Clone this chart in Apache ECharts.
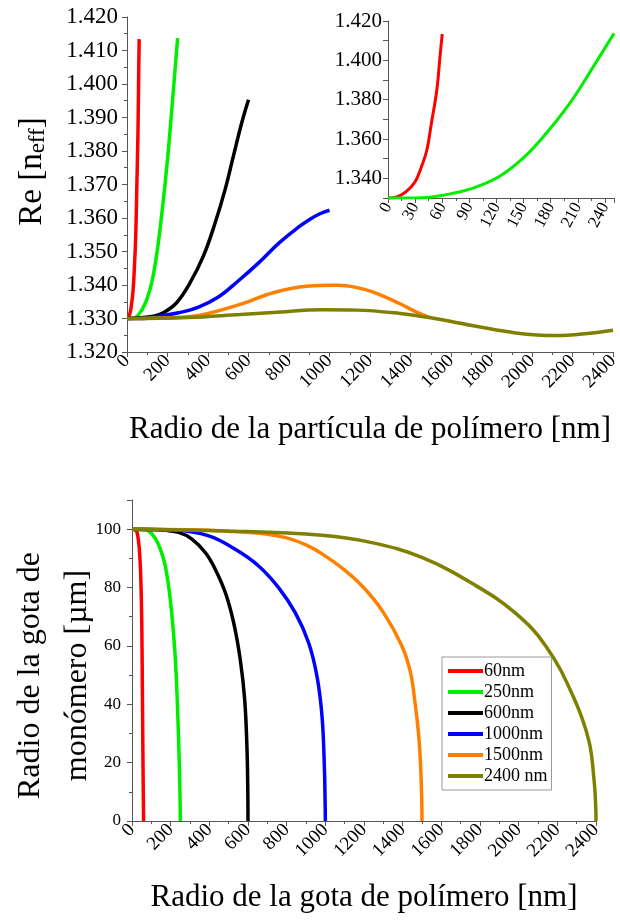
<!DOCTYPE html>
<html>
<head>
<meta charset="utf-8">
<script src="https://cdn.jsdelivr.net/npm/echarts@6/dist/echarts.min.js"></script>
<style>
  html, body { margin: 0; padding: 0; background: #fff; }
  #chart { width: 620px; height: 920px; }
</style>
</head>
<body>
<div id="chart"></div>
<script>
// 图例名称 / 颜色
var seriesNames = ['60nm', '250nm', '600nm', '1000nm', '1500nm', '2400 nm'];
var seriesColors = ['#ff0000', '#00ee00', '#000000', '#0000ff', '#ff8000', '#808000'];

// 上图: Re[n_eff] vs 粒子半径 (nm)
var reRed = [[0, 1.3300], [5, 1.3301], [11, 1.3307], [20, 1.3332], [30, 1.3383], [37, 1.3459], [43, 1.3544], [48, 1.3680], [54, 1.3849], [57.5, 1.4018], [60, 1.4134]];
var reGreen = [[0, 1.3300], [20, 1.3300], [43, 1.3303], [72, 1.3324], [98, 1.3357], [124, 1.3412], [150, 1.3505], [175, 1.3629], [201, 1.3781], [227, 1.3967], [250, 1.4137]];
var reBlack = [[0, 1.3300], [60, 1.3302], [130, 1.3307], [179, 1.3317], [245, 1.3347], [311, 1.3406], [377, 1.3486], [435, 1.3585], [484, 1.3684], [525, 1.3784], [566, 1.3883], [600, 1.3953]];
var reBlue = [[0, 1.3300], [100, 1.3301], [157, 1.3307], [255, 1.3317], [353, 1.3334], [451, 1.3364], [549, 1.3412], [650, 1.3466], [750, 1.3525], [850, 1.3574], [900, 1.3595], [950, 1.3612], [1000, 1.3623]];
var reOrange = [[0, 1.3300], [200, 1.3302], [353, 1.3309], [558, 1.3342], [722, 1.3377], [887, 1.3396], [1040, 1.3399], [1130, 1.3393], [1216, 1.3379], [1348, 1.3344], [1430, 1.3319], [1500, 1.3302]];
var reOlive = [[0, 1.3300], [300, 1.3303], [558, 1.3312], [722, 1.3318], [969, 1.3326], [1134, 1.3325], [1348, 1.3315], [1500, 1.3302], [1724, 1.3277], [1920, 1.3257], [2116, 1.3249], [2273, 1.3255], [2400, 1.3265]];

// 下图: 单体液滴半径 (um) vs 聚合物液滴半径 (nm)
var dropRed = [[0, 100], [15, 99.7], [26, 99], [38, 93], [46, 82], [51, 65], [54, 42], [57, 19], [59, 6], [60, 0]];
var dropGreen = [[0, 100], [52, 99.9], [86, 99.4], [121, 96.8], [147, 93.1], [172, 87.4], [198, 75.9], [221, 58.7], [234, 41.5], [245, 18.6], [249, 6], [250, 0]];
var dropBlack = [[0, 100], [138, 99.8], [241, 98.9], [310, 96.6], [379, 92], [431, 86.2], [483, 78.2], [526, 67.9], [560, 55.3], [583, 41.5], [595, 24.3], [599, 10], [600, 0]];
var dropBlue = [[0, 100], [224, 99.7], [397, 97.7], [534, 93.1], [655, 87.4], [759, 79.9], [845, 71.3], [914, 61], [957, 49.5], [983, 35.8], [995, 18.6], [999, 6], [1000, 0]];
var dropOrange = [[0, 100], [300, 99.8], [500, 99.3], [700, 98.3], [800, 97], [900, 94.6], [991, 91.2], [1100, 86], [1198, 80], [1300, 71.5], [1396, 60], [1440, 51], [1465, 40], [1482, 30], [1492, 20], [1498, 9], [1500, 0]];
var dropOlive = [[0, 100], [483, 99.4], [982, 97.9], [1241, 95.4], [1499, 90.3], [1770, 81], [1982, 71.3], [2140, 60], [2280, 43], [2362, 27.8], [2390, 14], [2399, 4], [2400, 0]];

var reData = [reRed, reGreen, reBlack, reBlue, reOrange, reOlive];
var dropData = [dropRed, dropGreen, dropBlack, dropBlue, dropOrange, dropOlive];

(function() {
    'use strict';

    var FONT = 'Liberation Serif';
    var AXIS_COLOR = '#555';

    var chart = echarts.init(document.getElementById('chart'));

    function $extend(a, b) {
        var out = {};
        var k;
        for (k in a) { out[k] = a[k]; }
        for (k in b) {
            if (b[k] && typeof b[k] === 'object' && !Array.isArray(b[k]) && out[k] && typeof out[k] === 'object') {
                out[k] = $extend(out[k], b[k]);
            } else {
                out[k] = b[k];
            }
        }
        return out;
    }

    /**
     * 通用坐标轴样式
     */
    function axisStyle(opt) {
        return $extend({
            type : 'value',
            nameMoveOverlap : false,
            axisLine : { show : true, onZero : false, lineStyle : { color : AXIS_COLOR, width : 1 } },
            axisTick : { show : true, length : 5, lineStyle : { color : AXIS_COLOR } },
            minorTick : { show : true, splitNumber : 2, length : 3, lineStyle : { color : AXIS_COLOR } },
            splitLine : { show : false },
            axisLabel : { color : '#000', fontFamily : FONT, fontSize : 19, formatter : function(v) { return String(v); } },
            nameTextStyle : { color : '#000', fontFamily : FONT },
        }, opt);
    }

    function lineSeries(d, i, axisIdx, width) {
        return {
            name : seriesNames[i], type : 'line', xAxisIndex : axisIdx, yAxisIndex : axisIdx,
            data : d, showSymbol : false, smooth : 0.4,
            lineStyle : { color : seriesColors[i], width : width },
            itemStyle : { color : seriesColors[i] },
        };
    }

    var series = [];
    reData.forEach(function(d, i) { series.push(lineSeries(d, i, 0, 3.5)); });
    [reRed, reGreen].forEach(function(d, i) { series.push(lineSeries(d, i, 1, 3)); });
    dropData.forEach(function(d, i) { series.push(lineSeries(d, i, 2, 3.5)); });

    var option = {
        animation : false,
        backgroundColor : '#fff',
        textStyle : { fontFamily : FONT, color : '#000' },
        grid : [
            { left : 127, right : 7, top : 17, height : 335, outerBoundsMode : 'none' },
            { left : 388, right : 6, top : 21, height : 177, outerBoundsMode : 'none' },
            { left : 132, right : 24, top : 500, height : 321, outerBoundsMode : 'none' },
        ],
        legend : {
            data : seriesNames,
            orient : 'vertical',
            left : 442, top : 657,
            padding : [5, 4, 5, 6],
            itemGap : 3,
            itemWidth : 35, itemHeight : 4,
            icon : 'rect',
            borderColor : '#999', borderWidth : 1,
            textStyle : { fontFamily : FONT, fontSize : 18, color : '#000', padding : [0, 0, 0, -4] },
        },
        xAxis : [
            axisStyle({
                gridIndex : 0, min : 0, max : 2400, interval : 200,
                axisLabel : { rotate : 45, margin : 6 },
                name : 'Radio de la partícula de polímero [nm]',
                nameLocation : 'middle', nameGap : 62,
                nameTextStyle : { fontSize : 31 },
            }),
            axisStyle({
                gridIndex : 1, min : 0, max : 250, interval : 30,
                axisLabel : { rotate : 62, margin : 6, fontSize : 17, showMaxLabel : false },
            }),
            axisStyle({
                gridIndex : 2, min : 0, max : 2400, interval : 200,
                axisLabel : { rotate : 45, margin : 6 },
                name : 'Radio de la gota de polímero [nm]',
                nameLocation : 'middle', nameGap : 61,
                nameTextStyle : { fontSize : 31 },
            }),
        ],
        yAxis : [
            axisStyle({
                gridIndex : 0, min : 1.32, max : 1.42, interval : 0.01,
                axisLabel : { fontSize : 23, margin : 9, formatter : function(v) { return v.toFixed(3); } },
                name : 'Re [n{sub|eff}]',
                nameLocation : 'middle', nameRotate : 90, nameGap : 78,
                nameTextStyle : {
                    fontSize : 33, padding : [0, 0, 0, 26],
                    rich : { sub : { fontSize : 23, verticalAlign : 'bottom', fontFamily : FONT, color : '#000' } },
                },
            }),
            axisStyle({
                gridIndex : 1, min : 1.33, max : 1.42, interval : 0.01,
                minorTick : { show : false },
                axisLabel : {
                    fontSize : 21, margin : 6,
                    formatter : function(v) {
                        return Math.round(v * 1000) % 20 === 0 ? v.toFixed(3) : '';
                    },
                },
            }),
            axisStyle({
                gridIndex : 2, min : 0, max : 110, interval : 20,
                axisLabel : { fontSize : 17, margin : 11, showMaxLabel : false },
                name : 'Radio de la gota de\nmonómero [µm]',
                nameLocation : 'middle', nameRotate : 90, nameGap : 31,
                nameTextStyle : { fontSize : 32, lineHeight : 47, padding : [0, 30, 0, 0] },
            }),
        ],
        series : series,
    };

    chart.setOption(option);
})();
</script>
</body>
</html>
